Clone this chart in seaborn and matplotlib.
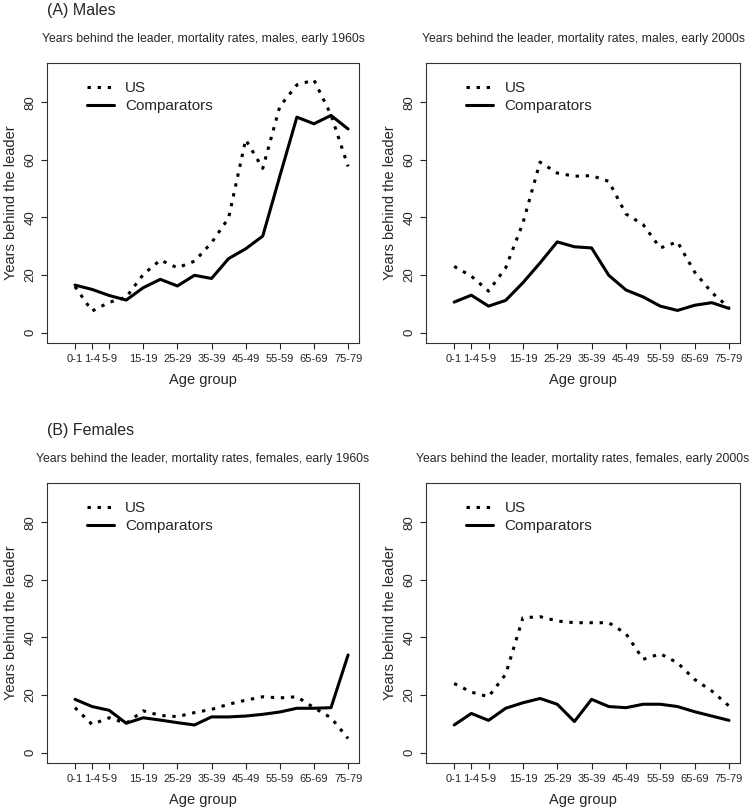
import numpy as np
import pandas as pd
import seaborn as sns
import matplotlib.pyplot as plt

# Age groups (plotted at equally spaced positions)
age_groups = ['0-1', '1-4', '5-9', '10-14', '15-19', '20-24', '25-29', '30-34', '35-39',
              '40-44', '45-49', '50-54', '55-59', '60-64', '65-69', '70-74', '75-79']
shown_labels = ['0-1', '1-4', '5-9', '15-19', '25-29', '35-39', '45-49', '55-59', '65-69', '75-79']

# Years behind the leader
males_1960_us = [16, 7.5, 10.5, 12.3, 20.2, 25.2, 22.5, 24.8, 31.2, 39.8, 67, 57, 78.5, 86, 87.7, 75.6, 57.7]
males_1960_comp = [16.5, 15, 12.9, 11.3, 15.6, 18.5, 16.2, 19.9, 18.8, 25.7, 29.1, 33.5, 54.3, 74.8, 72.5, 75.4, 70.7]
males_2000_us = [23, 19.6, 14.4, 22.5, 38, 59.2, 55.4, 54.3, 54.5, 52.5, 41.2, 37.5, 29.4, 31.5, 21, 13.9, 8.7]
males_2000_comp = [10.6, 13, 9.2, 11.2, 17.3, 24.2, 31.5, 29.8, 29.4, 19.9, 14.8, 12.4, 9.2, 7.7, 9.5, 10.4, 8.4]
females_1960_us = [15.6, 9.8, 12.1, 10.2, 14.5, 12.9, 12.5, 13.9, 15, 16.8, 18.2, 19.4, 19, 19.4, 15.6, 12.1, 4.9]
females_1960_comp = [18.5, 16, 14.7, 10.2, 12.1, 11.3, 10.4, 9.6, 12.4, 12.4, 12.7, 13.3, 14.1, 15.4, 15.4, 15.6, 33.9]
females_2000_us = [24, 21, 19.4, 27.2, 46.8, 47.2, 45.7, 45.1, 45.1, 45.1, 41.3, 32.4, 34.3, 31.2, 25.4, 21.4, 16.2]
females_2000_comp = [9.6, 13.6, 11.2, 15.4, 17.3, 18.8, 16.8, 10.8, 18.5, 16, 15.6, 16.8, 16.8, 16, 14.2, 12.7, 11.2]

panels = [
    ('Years behind the leader, mortality rates, males, early 1960s', males_1960_us, males_1960_comp),
    ('Years behind the leader, mortality rates, males, early 2000s', males_2000_us, males_2000_comp),
    ('Years behind the leader, mortality rates, females, early 1960s', females_1960_us, females_1960_comp),
    ('Years behind the leader, mortality rates, females, early 2000s', females_2000_us, females_2000_comp),
]

sns.set_theme(style='white')
plt.rcParams['font.family'] = ['Liberation Sans', 'DejaVu Sans']

W, H = 754, 809
fig = plt.figure(figsize=(W / 100, H / 100), dpi=100)

# axes boxes in pixels: left, right, top, bottom
boxes = [(47, 359, 63, 343), (426, 740, 63, 343), (47, 359, 483, 763), (426, 740, 483, 763)]

xpos = np.arange(len(age_groups))
tick_pos = [age_groups.index(a) for a in shown_labels]

for (title, us, comp), (l, r, t, b) in zip(panels, boxes):
    ax = fig.add_axes([l / W, (H - b) / H, (r - l) / W, (b - t) / H])
    sns.lineplot(x=xpos, y=us, ax=ax, color='black', linewidth=2.2,
                 linestyle=(0, (1.1, 2.2)), label='US')
    sns.lineplot(x=xpos, y=comp, ax=ax, color='black', linewidth=2.2,
                 linestyle='-', label='Comparators')
    ax.set_xlim(-1.64, 16.64)
    ax.set_ylim(-3.6, 93.6)
    ax.set_xticks(tick_pos)
    ax.set_xticklabels(shown_labels, fontsize=8)
    ax.set_yticks([0, 20, 40, 60, 80])
    ax.set_yticklabels(['0', '20', '40', '60', '80'], fontsize=9.5, rotation=90, va='center')
    ax.tick_params(axis='both', direction='out', length=4.5, width=0.8, color='#222222',
                   bottom=True, left=True, pad=3)
    ax.tick_params(axis='x', pad=3.5)
    for sp in ax.spines.values():
        sp.set_color('#333333')
        sp.set_linewidth(0.8)
    ax.set_xlabel('Age group', fontsize=10.5, labelpad=6.5)
    ax.set_ylabel('Years behind the leader', fontsize=10.5, labelpad=5)
    ax.set_title(title, fontsize=8.8, pad=15)
    ax.legend(loc='upper left', bbox_to_anchor=(0.128, 0.935), frameon=False, fontsize=11,
              handlelength=1.75, handletextpad=0.75, labelspacing=0.25,
              borderpad=0, borderaxespad=0)

fig.text(47 / W, 1 - 10 / H, '(A) Males', fontsize=11.5, va='center', ha='left')
fig.text(47 / W, 1 - 430 / H, '(B) Females', fontsize=11.5, va='center', ha='left')

fig.savefig('out.png', dpi=100)
